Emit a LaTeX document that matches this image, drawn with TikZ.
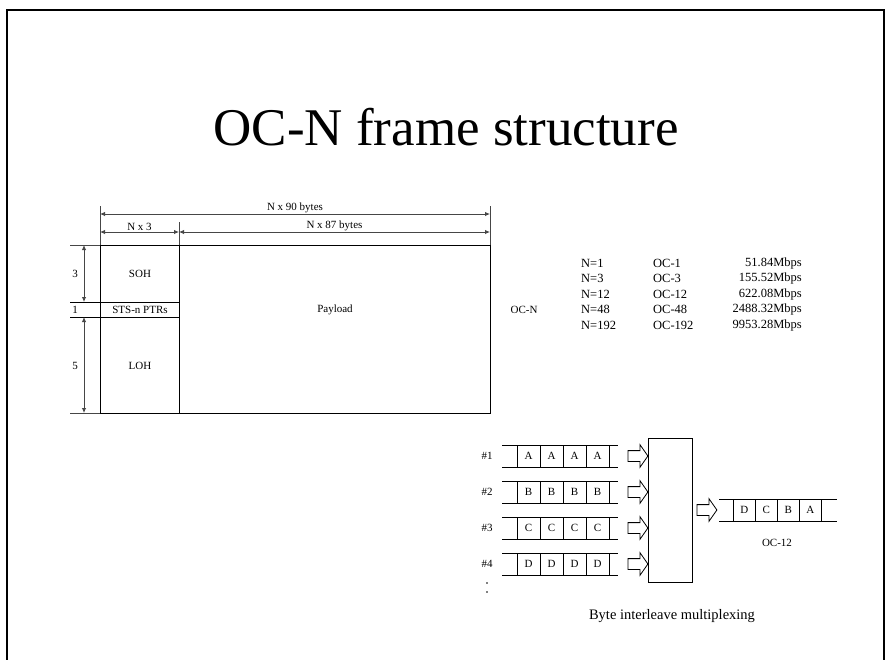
\documentclass[tikz,border=0pt]{standalone}
\usepackage{fontspec}
\setmainfont{Liberation Serif}
\usepackage{tikz}
\usetikzlibrary{arrows.meta,positioning,shapes.arrows}
\definecolor{dimgray}{RGB}{70,70,70}
\tikzstyle{lbl}=[font=\fontsize{11}{13}\selectfont, inner sep=1pt, text=black]
\tikzstyle{rate}=[font=\fontsize{12.5}{14}\selectfont, inner sep=0pt]
\tikzstyle{dimline}=[{Latex[length=5pt,width=4.5pt]}-{Latex[length=5pt,width=4.5pt]},
  dimgray, line width=0.9pt]
\tikzstyle{tick}=[dimgray, line width=0.9pt]
\tikzstyle{cell}=[rectangle, draw, line width=0.8pt, minimum width=23pt,
  minimum height=22pt, inner sep=0pt, outer sep=0pt, font=\fontsize{11}{13}\selectfont]
\tikzstyle{rail}=[line width=0.8pt]
\tikzstyle{fatarrow}=[single arrow, draw, line width=0.8pt, inner sep=5pt,
  minimum height=20pt, single arrow head extend=6pt, single arrow tip angle=110]

\begin{document}
\begin{tikzpicture}[x=1pt,y=-1pt]
    \useasboundingbox (0,0) rectangle (890,659);

    % slide frame and title
    \draw[line width=1.6pt] (7,664) -- (7,10) -- (884,10) -- (884,664);
    \node[font=\fontsize{53}{60}\selectfont, anchor=base] (title) at (446,145) {OC-N frame structure};

    % frame outline
    \coordinate (tl) at (100,245);
    \coordinate (tr) at (490,245);
    \coordinate (bl) at (100,413);
    \coordinate (br) at (490,413);
    \coordinate (tm) at (179,245);
    \coordinate (bm) at (179,413);
    \draw[line width=1pt] (tl) rectangle (br);
    \draw[line width=1pt] (tm) -- (bm);
    \draw[line width=1pt] (70,302) -- (179,302);
    \draw[line width=1pt] (70,317) -- (179,317);
    \draw[tick] (70,245) -- (tl);
    \draw[tick] (70,413) -- (bl);

    \node[lbl] (soh) at (140,274) {SOH};
    \node[lbl] (ptr) at (140,310) {STS-n PTRs};
    \node[lbl] (loh) at (140,366) {LOH};
    \node[lbl] (pay) at (335,310) {Payload};
    \node[lbl] (ocn) at (524,310) {OC-N};

    % column widths above the frame
    \draw[tick] (100,206) -- (tl);
    \draw[tick] (490,206) -- (tr);
    \draw[tick] (179,222) -- (tm);
    \coordinate (w90l) at (100,214);
    \coordinate (w90r) at (490,214);
    \coordinate (w3l) at (100,232);
    \coordinate (w3r) at (179,232);
    \coordinate (w87r) at (490,232);
    \draw[dimline] (w90l) -- (w90r) node[lbl, midway, above] (w90) {N x 90 bytes};
    \draw[dimline] (w3l) -- (w3r) node[lbl, midway, above] (w3) {N x 3};
    \draw[dimline] (w3r) -- (w87r) node[lbl, midway, above] (w87) {N x 87 bytes};

    % row heights left of the frame
    \coordinate (h3t) at (84,245);
    \coordinate (h3b) at (84,302);
    \coordinate (h5t) at (84,317);
    \coordinate (h5b) at (84,413);
    \draw[dimline] (h3t) -- (h3b);
    \draw[dimline] (h5t) -- (h5b);
    \node[lbl] (n3) at (75,274) {3};
    \node[lbl] (n1) at (75,310) {1};
    \node[lbl] (n5) at (75,366) {5};

    % line rates
    \node[rate, anchor=west] (r1a) at (581,263) {N=1};
    \node[rate, anchor=west] (r1b) at (653,263) {OC-1};
    \node[rate, anchor=east] (r1c) at (802,263) {51.84Mbps};
    \node[rate, anchor=west] (r2a) at (581,278.5) {N=3};
    \node[rate, anchor=west] (r2b) at (653,278.5) {OC-3};
    \node[rate, anchor=east] (r2c) at (802,278.5) {155.52Mbps};
    \node[rate, anchor=west] (r3a) at (581,294) {N=12};
    \node[rate, anchor=west] (r3b) at (653,294) {OC-12};
    \node[rate, anchor=east] (r3c) at (802,294) {622.08Mbps};
    \node[rate, anchor=west] (r4a) at (581,309.5) {N=48};
    \node[rate, anchor=west] (r4b) at (653,309.5) {OC-48};
    \node[rate, anchor=east] (r4c) at (802,309.5) {2488.32Mbps};
    \node[rate, anchor=west] (r5a) at (581,325) {N=192};
    \node[rate, anchor=west] (r5b) at (653,325) {OC-192};
    \node[rate, anchor=east] (r5c) at (802,325) {9953.28Mbps};

    % tributaries #1 to #4
    \node[lbl] (t1) at (487,456) {\#1};
    \draw[rail] (502,445) -- (618,445);
    \draw[rail] (502,467) -- (618,467);
    \node[cell] (a1) at (528.5,456) {A};
    \node[cell, right=0pt of a1] (a2) {A};
    \node[cell, right=0pt of a2] (a3) {A};
    \node[cell, right=0pt of a3] (a4) {A};
    \node[fatarrow] (in1) at (636,456) {};

    \node[lbl] (t2) at (487,492) {\#2};
    \draw[rail] (502,481) -- (618,481);
    \draw[rail] (502,503) -- (618,503);
    \node[cell] (b1) at (528.5,492) {B};
    \node[cell, right=0pt of b1] (b2) {B};
    \node[cell, right=0pt of b2] (b3) {B};
    \node[cell, right=0pt of b3] (b4) {B};
    \node[fatarrow] (in2) at (636,492) {};

    \node[lbl] (t3) at (487,528) {\#3};
    \draw[rail] (502,517) -- (618,517);
    \draw[rail] (502,539) -- (618,539);
    \node[cell] (c1) at (528.5,528) {C};
    \node[cell, right=0pt of c1] (c2) {C};
    \node[cell, right=0pt of c2] (c3) {C};
    \node[cell, right=0pt of c3] (c4) {C};
    \node[fatarrow] (in3) at (636,528) {};

    \node[lbl] (t4) at (487,564) {\#4};
    \draw[rail] (502,553) -- (618,553);
    \draw[rail] (502,575) -- (618,575);
    \node[cell] (d1) at (528.5,564) {D};
    \node[cell, right=0pt of d1] (d2) {D};
    \node[cell, right=0pt of d2] (d3) {D};
    \node[cell, right=0pt of d3] (d4) {D};
    \node[fatarrow] (in4) at (636,564) {};

    \fill (487,583) circle (0.9pt);
    \fill (487,592) circle (0.9pt);

    % multiplexer and OC-12 output
    \node[draw, line width=0.8pt, minimum width=44pt, minimum height=144pt] (mux) at (670,510) {};
    \node[fatarrow] (out) at (705,510) {};
    \draw[rail] (719,499) -- (837,499);
    \draw[rail] (719,521) -- (837,521);
    \node[cell, minimum width=22pt] (o1) at (744.3,510) {D};
    \node[cell, minimum width=22pt, right=0pt of o1] (o2) {C};
    \node[cell, minimum width=22pt, right=0pt of o2] (o3) {B};
    \node[cell, minimum width=22pt, right=0pt of o3] (o4) {A};
    \node[lbl] (oc12) at (777,543) {OC-12};

    \node[font=\fontsize{14.5}{16}\selectfont] (cap) at (672,616) {Byte interleave multiplexing};

  \end{tikzpicture}
\end{document}
